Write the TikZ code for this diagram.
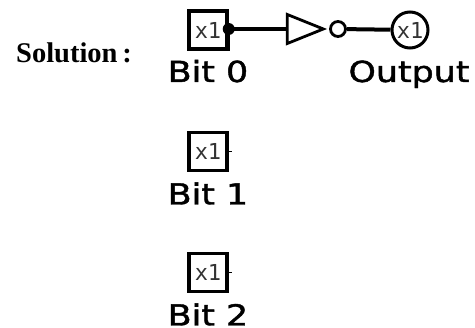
\documentclass[tikz,border=0pt]{standalone}
\usepackage{fontspec}
\usetikzlibrary{
    shapes.geometric,
    positioning
}
\newfontfamily\pixelfont[FakeStretch=1.2,FakeBold=1.5]{DejaVu Sans}
\newfontfamily\valuefont{DejaVu Sans Mono}
\newfontfamily\titlefont{Liberation Serif}
\newcommand{\boxvalue}{\raisebox{-4pt}{x1}\hspace{6pt}}
\newcommand{\circlevalue}{\raisebox{-3pt}{x1}\hspace{10pt}}
\tikzset{
    bitbox/.style={draw, line width=3.4pt, minimum size=38pt, inner sep=0pt, text=black!80, font=\valuefont\fontsize{22}{22}\selectfont},
    outcircle/.style={draw, circle, line width=3pt, minimum size=36pt, inner sep=0pt, text=black!80, font=\valuefont\fontsize{22}{22}\selectfont},
    bitlabel/.style={anchor=base, inner sep=0pt, font=\pixelfont\fontsize{29}{29}\selectfont},
    wire/.style={line width=4pt},
    notgate/.style={draw, isosceles triangle, isosceles triangle stretches, shape border rotate=0, line width=2.8pt, minimum width=29pt, minimum height=36pt, inner sep=0pt},
    bubble/.style={draw, circle, line width=2.8pt, minimum size=15pt, inner sep=0pt}
}
\begin{document}
\begin{tikzpicture}[x=1pt, y=-1pt]
    \useasboundingbox (0, 0) rectangle (475, 328);
    \node[anchor=base west, inner sep=0pt, font=\titlefont\bfseries\fontsize{28.5}{28.5}\selectfont] (title) at (16, 63) {Solution\,:};
    % first input with the gate
    \node[bitbox] (bit0) at (208, 30) {\boxvalue};
    \node[bitlabel] (name0) at (208, 82) {Bit 0};
    \node[notgate, anchor=apex] (gate) at (327, 29) {};
    \node[bubble] (dot) at (338, 29) {};
    \node[outcircle] (out) at (410, 30) {\circlevalue};
    \node[bitlabel] (nameout) at (409, 82) {Output};
    \coordinate (pin0) at (bit0.east |- gate.apex);
    \fill (pin0) circle (6);
    \draw[wire] (pin0) -- (gate.west |- pin0);
    \draw[wire] (dot) -- (out);
    \draw[line width=3.4pt] (pin0) -- (bit0.south east);
    % the other inputs
    \node[bitbox] (bit1) at (208, 151.5) {\boxvalue};
    \node[bitlabel] (name1) at (208, 204.5) {Bit 1};
    \coordinate[right=3pt of bit1.east] (pin1);
    \draw[line width=1.4pt] (bit1.east) -- (pin1);
    \node[bitbox] (bit2) at (208, 272.5) {\boxvalue};
    \node[bitlabel] (name2) at (208, 325.5) {Bit 2};
    \coordinate[right=3pt of bit2.east] (pin2);
    \draw[line width=1.4pt] (bit2.east) -- (pin2);
\end{tikzpicture}
\end{document}
